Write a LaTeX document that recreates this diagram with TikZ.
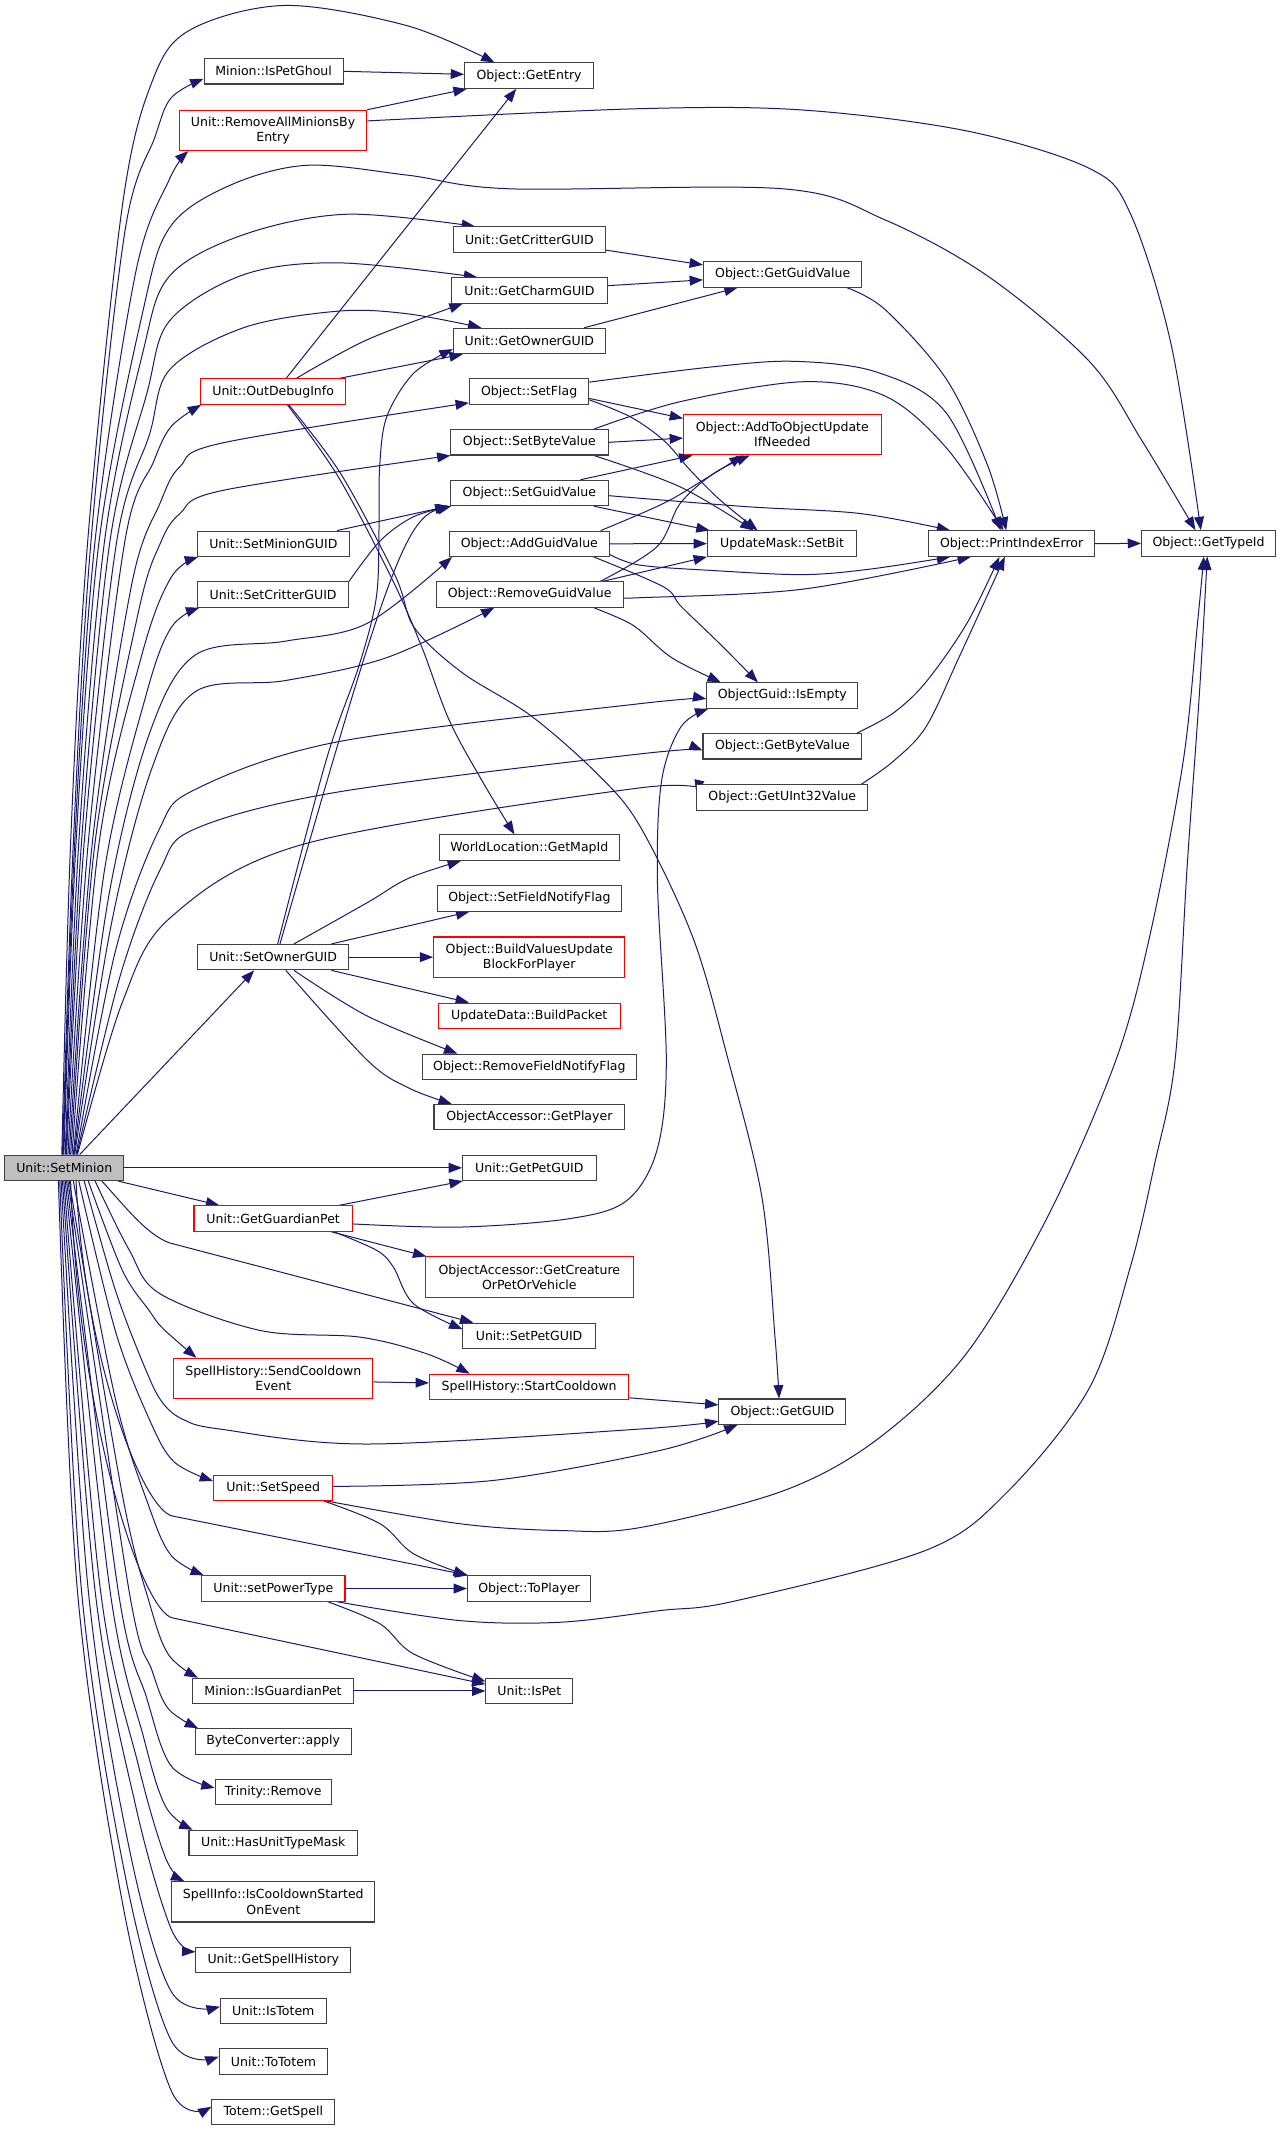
\documentclass[tikz,border=0pt]{standalone}
\usepackage{fontspec}
\setmainfont{DejaVu Sans}
\usetikzlibrary{arrows.meta,calc}
\definecolor{edgeblue}{HTML}{191970}
\pgfdeclarelayer{bg}
\pgfdeclarelayer{paper}
\pgfsetlayers{paper,bg,main}
\newcommand\edgeplot[1]{\draw[e] plot[smooth,tension=0.55] coordinates {#1};}
\begin{document}
\begin{tikzpicture}[x=1.0186pt,y=-1.0186pt,
  box/.style={draw=black!75,line width=0.8pt,fill=white,inner sep=0pt,minimum height=19.05pt,align=center,font=\fontsize{9.4}{11.4}\selectfont},
  rbox/.style={box,draw=red},
  two/.style={minimum height=30.25pt},
  bw/.style={minimum width={#1*1.0186pt}},
  e/.style={draw=edgeblue,line width=0.75pt,-{Triangle[length=10pt,width=7.4pt]}}]
\begin{pgfonlayer}{paper}
\fill[white] (0,0) rectangle (943,1568);
\end{pgfonlayer}
\useasboundingbox (0,0) rectangle (943,1568);
% nodes
\node[box,bw=87.4,fill=gray!50] (SM) at (47.3,859.7) {Unit::SetMinion};
\node[box,bw=102.4] (PG) at (201.4,52.5) {Minion::IsPetGhoul};
\node[box,bw=95] (GE) at (389.5,55.7) {Object::GetEntry};
\node[rbox,two,bw=138] (RA) at (201,96) {Unit::RemoveAllMinionsBy\\Entry};
\node[box,bw=98.6] (TI) at (889.7,400) {Object::GetTypeId};
\node[box,bw=112] (CR) at (389.7,176.4) {Unit::GetCritterGUID};
\node[box,bw=116.6] (GV) at (576.2,202) {Object::GetGuidValue};
\node[box,bw=114.2] (CH) at (389.8,213.8) {Unit::GetCharmGUID};
\node[box,bw=112] (OW) at (389.7,251) {Unit::GetOwnerGUID};
\node[rbox,bw=106.4] (OD) at (201.1,288.3) {Unit::OutDebugInfo};
\node[box,bw=87.8] (SF) at (389.5,288.3) {Object::SetFlag};
\node[box,bw=116.4] (SB) at (389.7,325.6) {Object::SetByteValue};
\node[rbox,two,bw=145.4] (AU) at (575.9,320) {Object::AddToObjectUpdate\\IfNeeded};
\node[box,bw=116.4] (SG) at (389.7,362.9) {Object::SetGuidValue};
\node[box,bw=112] (MG) at (201.2,400.3) {Unit::SetMinionGUID};
\node[box,bw=118.2] (AG) at (389.7,400.3) {Object::AddGuidValue};
\node[box,bw=109.8] (SBit) at (575.7,400.2) {UpdateMask::SetBit};
\node[box,bw=121.7] (PE) at (744.7,400.2) {Object::PrintIndexError};
\node[box,bw=111] (CG) at (201.1,437.6) {Unit::SetCritterGUID};
\node[box,bw=137.7] (RG) at (389.9,437.6) {Object::RemoveGuidValue};
\node[box,bw=111.2] (IE) at (575.9,512) {ObjectGuid::IsEmpty};
\node[box,bw=117] (GB) at (576,549.4) {Object::GetByteValue};
\node[box,bw=125.7] (GU) at (575.9,587) {Object::GetUInt32Value};
\node[box,bw=132] (ML) at (389.7,624) {WorldLocation::GetMapId};
\node[box,bw=135.6] (SNF) at (389.7,661.4) {Object::SetFieldNotifyFlag};
\node[box,bw=111] (SO) at (201.1,704.6) {Unit::SetOwnerGUID};
\node[rbox,two,bw=140.7] (BV) at (389.6,704.6) {Object::BuildValuesUpdate\\BlockForPlayer};
\node[rbox,bw=134] (BP) at (389.6,747.8) {UpdateData::BuildPacket};
\node[box,bw=157.3] (RNF) at (389.7,785.3) {Object::RemoveFieldNotifyFlag};
\node[box,bw=140.4] (GP) at (389.7,822.4) {ObjectAccessor::GetPlayer};
\node[box,bw=98.3] (PGUID) at (389.7,859.7) {Unit::GetPetGUID};
\node[rbox,bw=116.6] (GG) at (201.1,897) {Unit::GetGuardianPet};
\node[rbox,two,bw=153] (GC) at (389.7,940.1) {ObjectAccessor::GetCreature\\OrPetOrVehicle};
\node[box,bw=97.4] (SP) at (389.5,983.4) {Unit::SetPetGUID};
\node[rbox,two,bw=146.4] (SCE) at (201.2,1014.8) {SpellHistory::SendCooldown\\Event};
\node[rbox,bw=146.7] (SC) at (389.5,1021) {SpellHistory::StartCooldown};
\node[box,bw=93.5] (GUID) at (576,1039.2) {Object::GetGUID};
\node[rbox,bw=87.8] (SS) at (201.1,1095.2) {Unit::SetSpeed};
\node[box,bw=90.8] (TP) at (389.5,1169.4) {Object::ToPlayer};
\node[rbox,bw=105.5] (PT) at (201.2,1169.4) {Unit::setPowerType};
\node[box,bw=117.9] (IGP) at (201,1244.8) {Minion::IsGuardianPet};
\node[box,bw=64] (IP) at (389.7,1244.8) {Unit::IsPet};
\node[box,bw=114.8] (BC) at (201.1,1281.9) {ByteConverter::apply};
\node[box,bw=85.4] (TR) at (201.1,1319.2) {Trinity::Remove};
\node[box,bw=124.1] (HM) at (201.2,1356.7) {Unit::HasUnitTypeMask};
\node[box,two,bw=149.4] (CS) at (201.2,1400) {SpellInfo::IsCooldownStarted\\OnEvent};
\node[box,bw=113.9] (SH) at (201.2,1442.8) {Unit::GetSpellHistory};
\node[box,bw=77.8] (IT) at (201.2,1480.2) {Unit::IsTotem};
\node[box,bw=80] (TT) at (201.4,1517.5) {Unit::ToTotem};
\node[box,bw=90.4] (TS) at (201.2,1554.9) {Totem::GetSpell};
\begin{pgfonlayer}{bg}
% top fan from SetMinion
\edgeplot{($(SM.north)+(-1.8,0)$) (52,620) (64.6,398) (90,152) (112,60) (140,22) (210,4) (300,19) ($(GE.north)+(-25.5,0)$)}
\edgeplot{($(SM.north)+(-1.3,0)$) (54,620) (67,398) (92,170) (114,101) (126,72) ($(PG.west)+(0,5.5)$)}
\edgeplot{($(SM.north)+(-0.8,0)$) (55,620) (70,398) (100,200) (124.7,132) ($(RA.south west)+(7,0)$)}
\edgeplot{($(SM.north)+(-0.3,0)$) (56,620) (73,398) (105,230) (125,167.4) (168,137) (225.5,121.7) (300.5,129) (375.7,139) (576.6,139) (651.8,162) (726.8,203) (801.9,266) (841,325) ($(TI.north)+(-9.7,0)$)}
\edgeplot{($(SM.north)+(0.7,0)$) (58,620) (77,398) (105,260) (125,203) (180,172.5) (255.5,157.7) ($(CR.north west)+(16.4,0)$)}
\edgeplot{($(SM.north)+(1.2,0)$) (60,620) (81,398) (108,290) (125,236) (180,202) (249.5,193.5) ($(CH.north west)+(19,0)$)}
\edgeplot{($(SM.north)+(1.7,0)$) (62,620) (86,398) (110,320) (125,272) (180,241) (249.5,229) (300,231) ($(OW.north west)+(21,0)$)}
\edgeplot{($(SM.north)+(2.7,0)$) (65,620) (92,398) (113,340) (126,314) ($(OD.south west)+(0.5,0)$)}
\edgeplot{($(SM.north)+(3.7,0)$) (68,620) (97,430) (118,370) (132.5,343.5) (164,326) ($(SF.south west)+(0,-1.5)$)}
\edgeplot{($(SM.north)+(4.7,0)$) (70,620) (102,450) (118,400) (132.5,378) (164,361) ($(SB.south west)+(0.5,0)$)}
\edgeplot{($(SM.north)+(5.7,0)$) (73,620) (105,480) (126,425) ($(MG.south west)+(1,0)$)}
\edgeplot{($(SM.north)+(6.7,0)$) (77,640) (108,510) (126,462) ($(CG.south west)+(1.5,0)$)}
\edgeplot{($(SM.north)+(7.2,0)$) (80,660) (110,540) (144,482) (210,472) (270,459) ($(AG.south west)+(2.5,0)$)}
\edgeplot{($(SM.north)+(7.7,0)$) (82,680) (112,565) (144,509) (210,501) (285,484) ($(RG.south)+(-26,0)$)}
\edgeplot{($(SM.north)+(8.7,0)$) (85,700) (117,611) (144,581) (249,546) (471,518) ($(IE.west)+(0,2.5)$)}
\edgeplot{($(SM.north)+(9.2,0)$) (88,720) (118,640) (144,610) (249,583) (471,555) ($(GB.west)+(0,3)$)}
\edgeplot{($(SM.north)+(9.7,0)$) (90,738) (126,675) (225,621) (471,580) ($(GU.west)+(0,-3)$)}
\draw[e] ($(SM.north)+(11.3,0)$) -- ($(SO.south)+(-14,0)$);
% bottom fan from SetMinion
\draw[e] (SM.east) -- (PGUID.west);
\draw[e] ($(SM.south)+(39.7,0)$) -- ($(GG.north west)+(19,0)$);
\draw[e] ($(SM.south)+(27.7,0)$) .. controls (92,888) and (108,909) .. (125,915) -- ($(SP.north west)+(8,0)$);
\edgeplot{($(SM.south)+(22.7,0)$) (95,920) (117.8,952.4) (191.5,979.4) (265,984.3) (314.2,996.6) ($(SC.north west)+(30,0)$)}
\edgeplot{($(SM.south)+(17.7,0)$) (90,935) (110,965) (120,978) ($(SCE.north west)+(17,0)$)}
\edgeplot{($(SM.south)+(14.7,0)$) (85,950) (108,1010) (120,1033) (135,1045) (162,1052) (270,1063) (471,1052) ($(GUID.west)+(0,7)$)}
\edgeplot{($(SM.south)+(10.7,0)$) (85,980) (110,1045) (128,1076) ($(SS.west)+(0,-5)$)}
\draw[e] ($(SM.south)+(8.7,0)$) .. controls (62,1000) and (105,1111.5) .. (127,1116) -- ($(TP.north west)+(1,0)$);
\edgeplot{($(SM.south)+(6.7,0)$) (85,1030) (110,1110) (126,1145) ($(PT.north west)+(2,0)$)}
\draw[e] ($(SM.south)+(4.7,0)$) .. controls (58,1050) and (105,1186.5) .. (127,1191) -- ($(IP.west)+(0,-5)$);
\edgeplot{($(SM.south)+(3.7,0)$) (90,1100) (110,1180) (124,1218) ($(IGP.north west)+(4,0)$)}
\edgeplot{($(SM.south)+(2.7,0)$) (95,1171) (112,1230) (124,1258) ($(BC.north west)+(2.5,0)$)}
\edgeplot{($(SM.south)+(1.7,0)$) (87,1171) (108,1250) (126,1300) ($(TR.west)+(0,-3)$)}
\edgeplot{($(SM.south)+(0.7,0)$) (81,1171) (106,1280) (122,1330) ($(HM.north west)+(3,0)$)}
\edgeplot{($(SM.south)+(-0.3,0)$) (74,1171) (102,1300) (122,1368) ($(CS.north west)+(9.5,0)$)}
\edgeplot{($(SM.south)+(-1.3,0)$) (70,1171) (100,1330) (126,1420) ($(SH.west)+(0,-6)$)}
\edgeplot{($(SM.south)+(-2.3,0)$) (65,1171) (95,1360) (126,1466) ($(IT.west)+(0,-3)$)}
\edgeplot{($(SM.south)+(-3.3,0)$) (60,1171) (92,1380) (126,1502) ($(TT.west)+(0,-3.5)$)}
\edgeplot{($(SM.south)+(-4.3,0)$) (57,1171) (90,1400) (126,1539) ($(TS.west)+(0,-4)$)}
% others
\draw[e] (PG.east) -- ($(GE.west)+(0,-1)$);
\draw[e] (RA.north east) -- ($(GE.south west)+(2,0)$);
\edgeplot{($(RA.east)+(0,-7)$) (471,80) (591,81) (711.7,96.4) (802,124) (832,157) (862,253) ($(TI.north)+(-5.7,0)$)}
\draw[e] ($(OD.north)+(9.5,0)$) -- ($(GE.south)+(-9.5,0)$);
\edgeplot{($(OD.north)+(17,0)$) (270.5,250) ($(CH.south west)+(8.3,0)$)}
\draw[e] ($(OD.north)+(48.5,0)$) -- ($(OW.south west)+(7.4,0)$);
\edgeplot{($(OD.south)+(10.5,0)$) (249,351) (288,425) (310,475) (330.6,530) (355,575) ($(ML.north)+(-11,0)$)}
\edgeplot{($(OD.south)+(11.5,0)$) (251,349) (291,424) (305,462) (340,495) (391,527) (440,570) (471,608) (510,690) (536,780) (561,882) (570.5,984) ($(GUID.north)+(-2.5,0)$)}
\draw[e] ($(CR.south east)+(0,-2)$) -- ($(GV.west)+(0,-7)$);
\draw[e] ($(CH.east)+(0,-3.5)$) -- ($(GV.west)+(0,4)$);
\draw[e] ($(OW.north east)+(-16,0)$) -- ($(GV.south west)+(25.5,0)$);
\edgeplot{($(GV.south east)+(-11.5,0)$) (651.7,228) (696.6,279) (726.8,342) ($(PE.north)+(-4,0)$)}
\edgeplot{($(SF.east)+(0,-7)$) (525,270) (585,266) (645.6,274) (696.6,304) ($(PE.north)+(-8,0)$)}
\edgeplot{($(SB.north east)+(-11,0)$) (501.5,295.5) (591.6,281) (651.7,291.6) (696.6,329.6) ($(PE.north)+(-6,0)$)}
\draw[e] ($(SF.east)+(0,5)$) -- ($(AU.west)+(0,-12)$);
\edgeplot{($(SF.east)+(0,6)$) (463.9,306.8) (488.4,324) (508,346) (530,368) ($(SBit.north)+(-18,0)$)}
\draw[e] (SB.east) -- ($(AU.west)+(0,2.5)$);
\edgeplot{($(SB.south east)+(-11,0)$) (500.7,358.4) ($(SBit.north)+(-21,0)$)}
\draw[e] ($(SG.north east)+(-21,0)$) -- ($(AU.south west)+(7,0)$);
\edgeplot{($(SG.east)+(0,2)$) (549.8,373) (633,378) ($(PE.north west)+(16,0)$)}
\draw[e] ($(SG.south east)+(-11,0)$) -- ($(SBit.north west)+(2,0)$);
\draw[e] (AG.east) -- (SBit.west);
\edgeplot{($(AG.north east)+(-7,0)$) (488.4,370.6) (520,352) ($(AU.south)+(-29,0)$)}
\edgeplot{($(AG.east)+(0,8)$) (471,416) (525,420) (591,423) (640,419) ($(PE.south west)+(16,0)$)}
\edgeplot{($(AG.south east)+(-12,0)$) (488.4,432) (501.3,446.3) (530,474) ($(IE.north)+(-18,0)$)}
\edgeplot{($(RG.north east)+(-17,0)$) (483.6,402.5) (500.7,370.6) (525.3,348.6) ($(AU.south)+(-24,0)$)}
\draw[e] ($(RG.north east)+(-15,0)$) -- (SBit.south west);
\edgeplot{($(RG.east)+(0,2)$) (471,440) (591,433.7) ($(PE.south)+(-30,0)$)}
\edgeplot{($(RG.south east)+(-22,0)$) (459,456.5) (471,464) (495,484.5) ($(IE.north west)+(10.7,0)$)}
\draw[e] (PE.east) -- (TI.west);
\edgeplot{($(GB.north east)+(-4,0)$) (657.6,524.9) (681.7,502) (711.7,459) ($(PE.south)+(-9,0)$)}
\edgeplot{($(GU.north east)+(-5,0)$) (657.6,560.4) (681.7,535) (705.8,484.3) ($(PE.south)+(-5,0)$)}
% SetOwnerGUID
\edgeplot{($(SO.north)+(3.3,0)$) (240,560) (264.5,489.4) (277,440) (279,390) (279.5,343.6) (284.7,306.8) (304.4,274.9) ($(OW.west)+(0,6)$)}
\draw[e] ($(SO.north)+(5,0)$) .. controls (282,430) and (298,381) .. ($(SG.south west)+(1,0)$);
\edgeplot{($(SO.north)+(15.3,0)$) (270.5,664.4) (300.6,646.6) ($(ML.south west)+(16,0)$)}
\draw[e] ($(SO.north east)+(-13,0)$) -- ($(SNF.south west)+(24,0)$);
\draw[e] (SO.east) -- (BV.west);
\draw[e] ($(SO.south east)+(-13,0)$) -- ($(BP.north west)+(23,0)$);
\edgeplot{($(SO.south)+(15.3,0)$) (270.5,748) ($(RNF.north west)+(26,0)$)}
\edgeplot{($(SO.south)+(9.3,0)$) (270.5,780.6) (300.6,800.8) ($(GP.north west)+(13.5,0)$)}
\draw[e] ($(MG.north east)+(-9.4,0)$) -- ($(SG.south west)+(-1,0)$);
\edgeplot{(CG.north east) (280,398) (304.4,380.4) ($(SG.south west)+(0.5,0)$)}
% GetGuardianPet
\draw[e] ($(GG.north east)+(-10,0)$) -- ($(PGUID.south west)+(0.5,0)$);
\edgeplot{($(GG.east)+(0,4)$) (338.7,903.3) (420,897) (461.5,883.7) (483.6,846.8) (490.5,780.6) (484,650) (487,575) (501.3,535) ($(IE.south west)+(1.5,0)$)}
\draw[e] ($(GG.south east)+(-16,0)$) -- ($(GC.north west)+(1,0)$);
\edgeplot{($(GG.south east)+(-14,0)$) (277.4,920.5) (289.6,932.8) (304.4,959.7) ($(SP.west)+(0,-5)$)}
% cooldown, speed, power
\draw[e] ($(SCE.east)+(0,2.5)$) -- ($(SC.west)+(0,-3)$);
\draw[e] ($(SC.east)+(0,8)$) -- ($(GUID.west)+(0,-5)$);
\edgeplot{($(SS.east)+(0,-1)$) (363.3,1089.8) (486,1067.7) ($(GUID.south west)+(14,0)$)}
\edgeplot{($(SS.south east)+(-7,0)$) (279.8,1121.7) (304.4,1143.8) (TP.north west)}
\edgeplot{($(SS.south east)+(-5,0)$) (338.7,1121.7) (412.4,1126.7) (471.3,1124.5) (576.5,1097.5) (645.6,1059.7) (711.7,996) (771.7,894.7) (821.4,780.6) (846.8,687.2) (871,560.4) (881.5,459) ($(TI.south)+(-3.5,0)$)}
\draw[e] (PT.east) -- (TP.west);
\edgeplot{($(PT.south east)+(-13,0)$) (279.8,1195.4) (304.4,1217.5) ($(IP.west)+(0,-7)$)}
\edgeplot{($(PT.south east)+(-6,0)$) (338.7,1193) (412.4,1194.2) (486,1185.6) (540.4,1178.7) (681.7,1141.2) (741.8,1098) (801.9,1021.8) (832,933) (850,856.7) (865,780.6) (874,636.5) (883,509.6) ($(TI.south)+(-1,0)$)}
\draw[e] (IGP.east) -- (IP.west);
\end{pgfonlayer}
\end{tikzpicture}
\end{document}
